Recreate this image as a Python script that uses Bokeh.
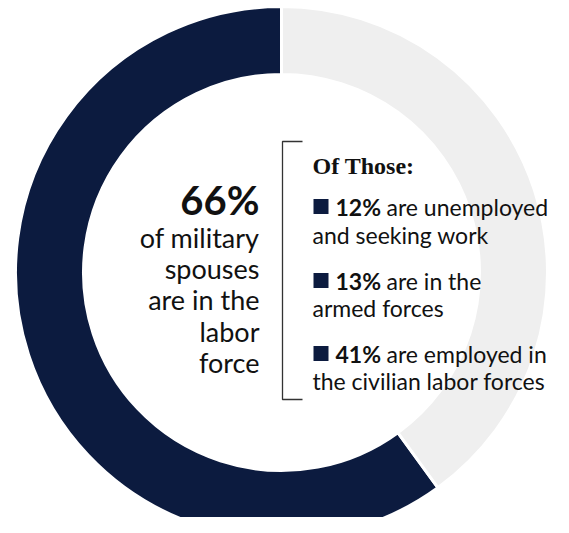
import numpy as np
from bokeh.plotting import figure
from bokeh.models import Range1d
from bokeh.core.properties import value
from bokeh.embed import file_html
from bokeh.resources import INLINE

# ---- data (ring shares as drawn in the picture) ----
ring_labels = ["In labor force", "Not in labor force"]
ring_values = [60, 40]
ring_colors = ["#0c1b3f", "#efefef"]

headline = "66%"
sub_lines = ["of military", "spouses", "are in the", "labor", "force"]
header = "Of Those:"
item_pcts = ["12%", "13%", "41%"]
item_first = ["are unemployed", "are in the", "are employed in"]
item_second = ["and seeking work", "armed forces", "the civilian labor forces"]

W, H = 553, 517
p = figure(width=W, height=H, output_backend="svg", toolbar_location=None,
           x_range=Range1d(0, W), y_range=Range1d(0, H), min_border=0)
p.axis.visible = False
p.grid.visible = False
p.outline_line_color = None
p.background_fill_color = "white"

def sx(x):
    return x

def sy(y):
    return H - y

TXT_DY = 8  # text baseline correction

def ty(y):
    return sy(y - TXT_DY)

# donut
cx, cy = sx(281), sy(272)
r_out, r_in = 266, 198
total = float(sum(ring_values))
a = np.pi / 2
starts, ends = [], []
for v in ring_values:
    span = 2 * np.pi * v / total
    starts.append(a)
    ends.append(a + span)
    a += span
p.annular_wedge(x=cx, y=cy, inner_radius=r_in, outer_radius=r_out,
                start_angle=starts, end_angle=ends, direction="anticlock",
                fill_color=ring_colors, line_color="white", line_width=3)

FONT = value("Lato")
# left block
p.text(x=[sx(259)], y=[ty(207)], text=[headline], text_font=FONT,
       text_font_style="bold", text_font_size="40px", text_align="right",
       text_baseline="alphabetic", text_color="#111111")
left_base = [245, 276, 307, 339, 370]
p.text(x=[sx(259)] * len(sub_lines), y=[ty(b) for b in left_base], text=sub_lines,
       text_font=FONT, text_font_size="27px", text_align="right",
       text_baseline="alphabetic", text_color="#111111")

# bracket
p.line(x=[sx(302), sx(282), sx(282), sx(302)], y=[sy(141), sy(141), sy(399), sy(399)],
       line_color="#333333", line_width=1.3)

# header
p.text(x=[sx(312)], y=[ty(173)], text=[header], text_font=value("Liberation Serif"),
       text_font_style="bold", text_font_size="24px", text_baseline="alphabetic",
       text_color="#111111")

first_base = [214, 288, 361]
second_base = [242, 315, 388]
p.rect(x=[sx(320.5)] * 3, y=[sy(b - 8) for b in first_base], width=15, height=15,
       fill_color="#0c1b3f", line_color=None)
p.text(x=[sx(335)] * 3, y=[ty(b) for b in first_base], text=item_pcts, text_font=FONT,
       text_font_style="bold", text_font_size="23px", text_baseline="alphabetic",
       text_color="#111111")
p.text(x=[sx(386)] * 3, y=[ty(b) for b in first_base], text=item_first, text_font=FONT,
       text_font_size="23px", text_baseline="alphabetic", text_color="#111111")
p.text(x=[sx(312)] * 3, y=[ty(b) for b in second_base], text=item_second, text_font=FONT,
       text_font_size="23px", text_baseline="alphabetic", text_color="#111111")

open("out.html", "w").write(file_html(p, INLINE))
